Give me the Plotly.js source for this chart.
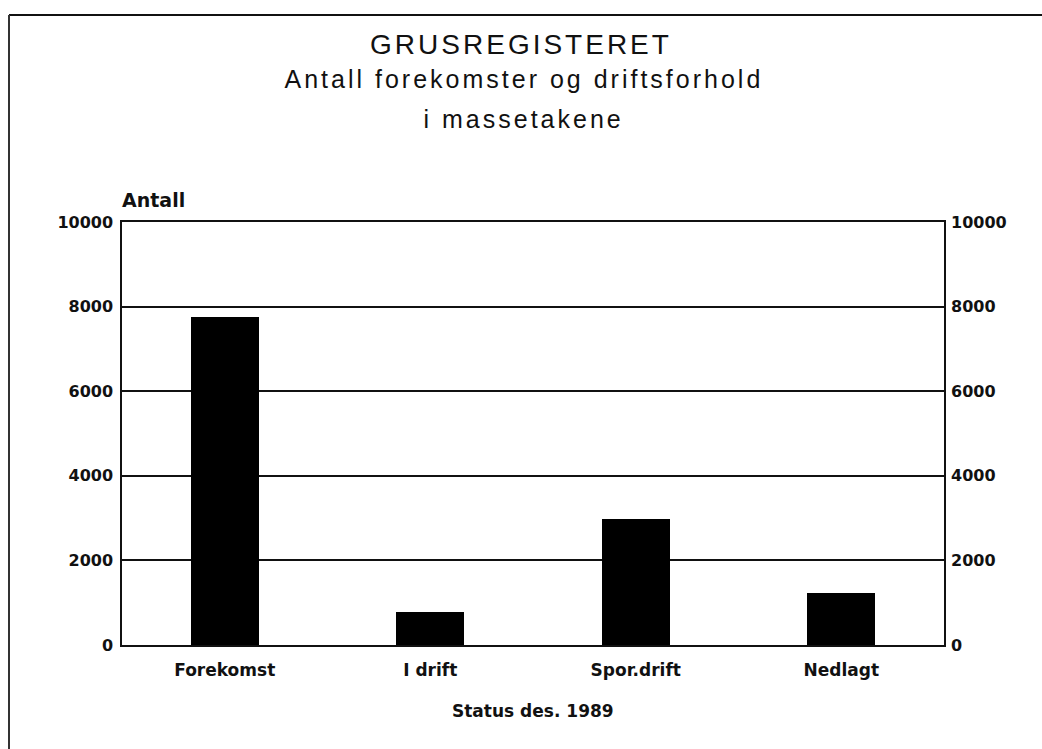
<!DOCTYPE html>
<html>
<head>
<meta charset="utf-8">
<script src="https://cdn.plot.ly/plotly-3.0.1.min.js"></script>
<style>
html,body{margin:0;padding:0;background:#fff;}
#chart{width:1042px;height:749px;}
#chart text.gtitle{letter-spacing:3px;}
#chart g.annotation[data-index="0"] text,
#chart g.annotation[data-index="1"] text{letter-spacing:3px;}
</style>
</head>
<body>
<div id="chart"></div>
<script>
var categories = ["Forekomst", "I drift", "Spor.drift", "Nedlagt"];
var antall = [7750, 780, 2990, 1240];
var yTicks = [0, 2000, 4000, 6000, 8000, 10000];
var titleText = "GRUSREGISTERET";
var subtitleLines = ["Antall forekomster og driftsforhold", "i massetakene"];
var yLabel = "Antall";
var footText = "Status des. 1989";

var FONT = "Liberation Sans, Arial, Helvetica, sans-serif";
var BFONT = "DejaVu Sans, Verdana, sans-serif";
var INK = "#111111";

var traces = [
  {
    type: "bar",
    x: categories,
    y: antall,
    width: 0.33,
    marker: {color: "#000000", line: {width: 0}},
    hoverinfo: "x+y",
    showlegend: false
  },
  {
    type: "scatter",
    mode: "markers",
    x: categories,
    y: antall,
    yaxis: "y2",
    marker: {opacity: 0, size: 1},
    hoverinfo: "skip",
    showlegend: false
  }
];

var layout = {
  width: 1042,
  height: 749,
  paper_bgcolor: "#ffffff",
  plot_bgcolor: "#ffffff",
  margin: {l: 122, r: 98, t: 222, b: 104},
  font: {family: FONT, color: INK},
  showlegend: false,
  bargap: 0,
  title: {
    text: titleText,
    font: {family: FONT, size: 28, color: INK},
    x: 0.5, xref: "container", xanchor: "center",
    y: 1 - 44 / 749, yref: "container", yanchor: "middle"
  },
  xaxis: {
    type: "category",
    range: [-0.5, 3.5],
    showgrid: false,
    showline: true,
    linecolor: INK,
    linewidth: 1.5,
    mirror: true,
    ticks: "",
    ticklabelstandoff: 9,
    tickfont: {family: BFONT, size: 17, color: INK, weight: "bold"},
    fixedrange: true
  },
  yaxis: {
    range: [0, 10000],
    tickvals: yTicks,
    ticktext: yTicks.map(String),
    showgrid: true,
    gridcolor: INK,
    gridwidth: 1.5,
    zeroline: false,
    showline: true,
    linecolor: INK,
    linewidth: 1.5,
    mirror: true,
    ticks: "",
    ticklabelstandoff: 4,
    tickfont: {family: BFONT, size: 16, color: INK, weight: "bold"},
    fixedrange: true
  },
  yaxis2: {
    overlaying: "y",
    side: "right",
    range: [0, 10000],
    tickvals: yTicks,
    ticktext: yTicks.map(String),
    showgrid: false,
    zeroline: false,
    showline: false,
    ticks: "",
    ticklabelstandoff: 6,
    tickfont: {family: BFONT, size: 16, color: INK, weight: "bold"},
    fixedrange: true
  },
  annotations: [
    {
      text: subtitleLines[0],
      xref: "paper", yref: "paper",
      x: 0.489, y: (645 - 79) / 423,
      xanchor: "center", yanchor: "middle",
      showarrow: false,
      font: {family: FONT, size: 25, color: INK}
    },
    {
      text: subtitleLines[1],
      xref: "paper", yref: "paper",
      x: 0.489, y: (645 - 119) / 423,
      xanchor: "center", yanchor: "middle",
      showarrow: false,
      font: {family: FONT, size: 25, color: INK}
    },
    {
      text: yLabel,
      xref: "paper", yref: "paper",
      x: -0.002, y: (645 - 200) / 423,
      xanchor: "left", yanchor: "middle",
      showarrow: false,
      font: {family: BFONT, size: 19, color: INK, weight: "bold"}
    },
    {
      text: footText,
      xref: "paper", yref: "paper",
      x: 0.5, y: (645 - 711) / 423,
      xanchor: "center", yanchor: "middle",
      showarrow: false,
      font: {family: BFONT, size: 17, color: INK, weight: "bold"}
    }
  ],
  shapes: [
    {
      type: "line", xref: "paper", yref: "paper", layer: "above",
      x0: (9 - 122) / 822, x1: (1042 - 122) / 822,
      y0: (645 - 15) / 423, y1: (645 - 15) / 423,
      line: {color: INK, width: 2}
    },
    {
      type: "line", xref: "paper", yref: "paper", layer: "above",
      x0: (9 - 122) / 822, x1: (9 - 122) / 822,
      y0: (645 - 15) / 423, y1: (645 - 749) / 423,
      line: {color: "#333333", width: 2}
    }
  ]
};

Plotly.newPlot("chart", traces, layout, {displayModeBar: false});
</script>
</body>
</html>
